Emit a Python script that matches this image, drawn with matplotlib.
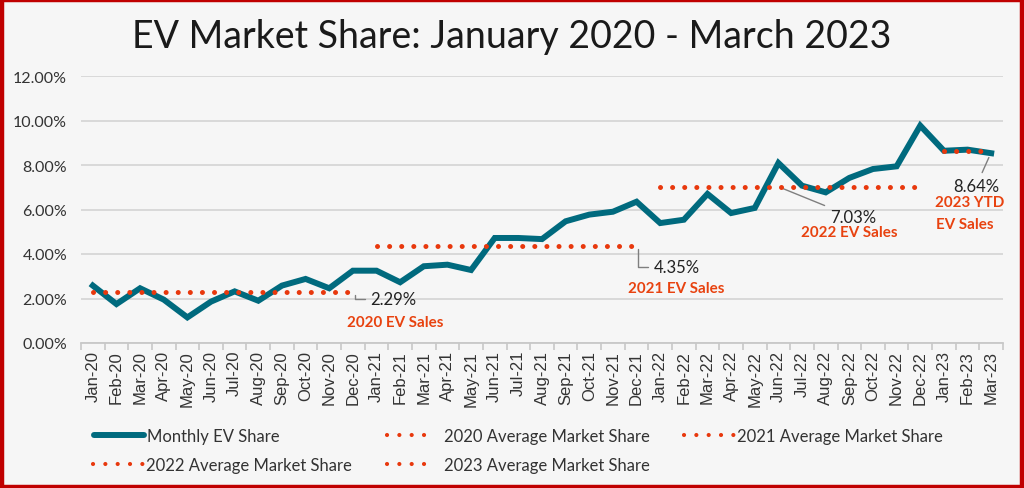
import matplotlib
matplotlib.use("Agg")
import matplotlib.pyplot as plt
from matplotlib.lines import Line2D
from matplotlib.patches import Rectangle
import numpy as np

months = ["Jan-20","Feb-20","Mar-20","Apr-20","May-20","Jun-20","Jul-20","Aug-20","Sep-20","Oct-20","Nov-20","Dec-20",
          "Jan-21","Feb-21","Mar-21","Apr-21","May-21","Jun-21","Jul-21","Aug-21","Sep-21","Oct-21","Nov-21","Dec-21",
          "Jan-22","Feb-22","Mar-22","Apr-22","May-22","Jun-22","Jul-22","Aug-22","Sep-22","Oct-22","Nov-22","Dec-22",
          "Jan-23","Feb-23","Mar-23"]
monthly_share = [2.58,1.75,2.46,1.95,1.15,1.86,2.32,1.90,2.58,2.88,2.46,3.25,
                 3.25,2.73,3.45,3.52,3.28,4.72,4.72,4.67,5.47,5.77,5.90,6.35,
                 5.39,5.54,6.70,5.84,6.07,8.09,7.07,6.77,7.42,7.82,7.94,9.77,
                 8.64,8.69,8.53]
avg_years = ["2020","2021","2022","2023"]
avg_values = [2.29, 4.35, 7.03, 8.64]
avg_start = [0, 12, 24, 36]
avg_end = [11, 23, 35, 38]
yticks = [0, 2, 4, 6, 8, 10, 12]

TEAL = "#006a7e"
RED = "#e8380d"
ORANGE = "#e8420f"
BG = "#f6f6f6"
TXT = "#333333"

plt.rcParams['font.family'] = ['Lato', 'DejaVu Sans']

fig = plt.figure(figsize=(10.24, 4.89), dpi=100, facecolor=BG)
ax = fig.add_axes([81/1024, 1-344/489, (1003-81)/1024, (344-77)/489])
ax.set_facecolor(BG)

x = np.arange(len(months))
ax.plot(x, monthly_share, color=TEAL, lw=4.3, solid_joinstyle='miter', zorder=3, label="Monthly EV Share")

dot_style = dict(color=RED, lw=3.6, linestyle=(0, (0.01, 2.41)), dash_capstyle='round', zorder=4)
for yr, v, s, e in zip(avg_years, avg_values, avg_start, avg_end):
    ax.plot([s, e], [v, v], **dot_style)

ax.set_xlim(-0.5, len(months) - 0.5)
ax.set_ylim(0, 12)
ax.set_yticks(yticks)
ax.set_yticklabels([f"{v:.2f}%" for v in yticks], fontsize=11.5, color=TXT)
ax.set_xticks(x)
ax.set_xticklabels(months, rotation=90, fontsize=12, color=TXT, family=['Liberation Sans', 'DejaVu Sans'])
ax.set_xticks(np.arange(-0.5, len(months), 1), minor=True)
ax.tick_params(axis='x', which='major', length=0, pad=5)
ax.tick_params(axis='x', which='minor', length=5, color="#c8c8c8", width=1.2)
ax.tick_params(axis='y', length=0, pad=10)
ax.grid(axis='y', color="#d6d6d6", lw=1.3, zorder=0)
for sp in ['top', 'right', 'left']:
    ax.spines[sp].set_visible(False)
ax.spines['bottom'].set_color("#c8c8c8")
ax.spines['bottom'].set_linewidth(1.3)

# annotations
lead = dict(arrowstyle='-', color="#7f7f7f", lw=1.0)
elbow = dict(lead, connectionstyle="angle,angleA=0,angleB=90,rad=0")
lab_kw = dict(fontsize=10.9, color=ORANGE, weight='bold', ha='center', va='center')
val_kw = dict(fontsize=12, color="#222222", ha='left', va='center')

ax.annotate("2.29%", xy=(11.1, avg_values[0]), xytext=(11.75, 1.98), arrowprops=elbow, **val_kw)
ax.text(12.78, 0.94, "2020 EV Sales", **lab_kw)

ax.annotate("4.35%", xy=(23.05, avg_values[1]), xytext=(23.72, 3.42), arrowprops=elbow, **val_kw)
ax.text(24.67, 2.47, "2021 EV Sales", **lab_kw)

ax.annotate("7.03%", xy=(29.1, avg_values[2] - 0.05), xytext=(31.18, 5.66), arrowprops=lead, **val_kw)
ax.text(31.99, 4.99, "2022 EV Sales", **lab_kw)

ax.annotate("8.64%", xy=(37.95, 8.45), xytext=(36.39, 7.06), arrowprops=lead, **val_kw)
ax.text(37.1, 6.34, "2023 YTD", **lab_kw)
ax.text(36.9, 5.35, "EV Sales", **lab_kw)

# title
fig.text(0.5, 1-37/489, "EV Market Share: January 2020 - March 2023", ha='center', va='center',
         fontsize=27, color="#1a1a1a")

# legends
leg_kw = dict(frameon=False, fontsize=12, labelcolor=TXT, borderaxespad=0, borderpad=0)
teal_h = Line2D([], [], color=TEAL, lw=4.3, solid_capstyle='round')
def dot_h():
    return Line2D([], [], color=RED, lw=3.0, linestyle=(0, (0.01, 2.95)), dash_capstyle='round')
r1 = 1 - 437/489
r2 = 1 - 466/489
entries = [
    (teal_h, "Monthly EV Share", 94/1024, r1, 3.0, 0.2),
    (dot_h(), "2020 Average Market Share", 387/1024, r1, 2.5, 0.92),
    (dot_h(), "2021 Average Market Share", 684/1024, r1, 3.05, 0.12),
    (dot_h(), "2022 Average Market Share", 93/1024, r2, 3.05, 0.12),
    (dot_h(), "2023 Average Market Share", 387/1024, r2, 2.5, 0.92),
]
for h, lab, lx, ly, hl, tp in entries:
    fig.legend([h], [lab], loc='center left', bbox_to_anchor=(lx, ly), handlelength=hl,
               handletextpad=tp, **leg_kw)

# red frame
fig.patches.append(Rectangle((0.0015, 0.003), 0.997, 0.994, transform=fig.transFigure, fill=False,
                             edgecolor="#c00000", lw=3.2))

fig.savefig("out.png", dpi=100, facecolor=BG)
